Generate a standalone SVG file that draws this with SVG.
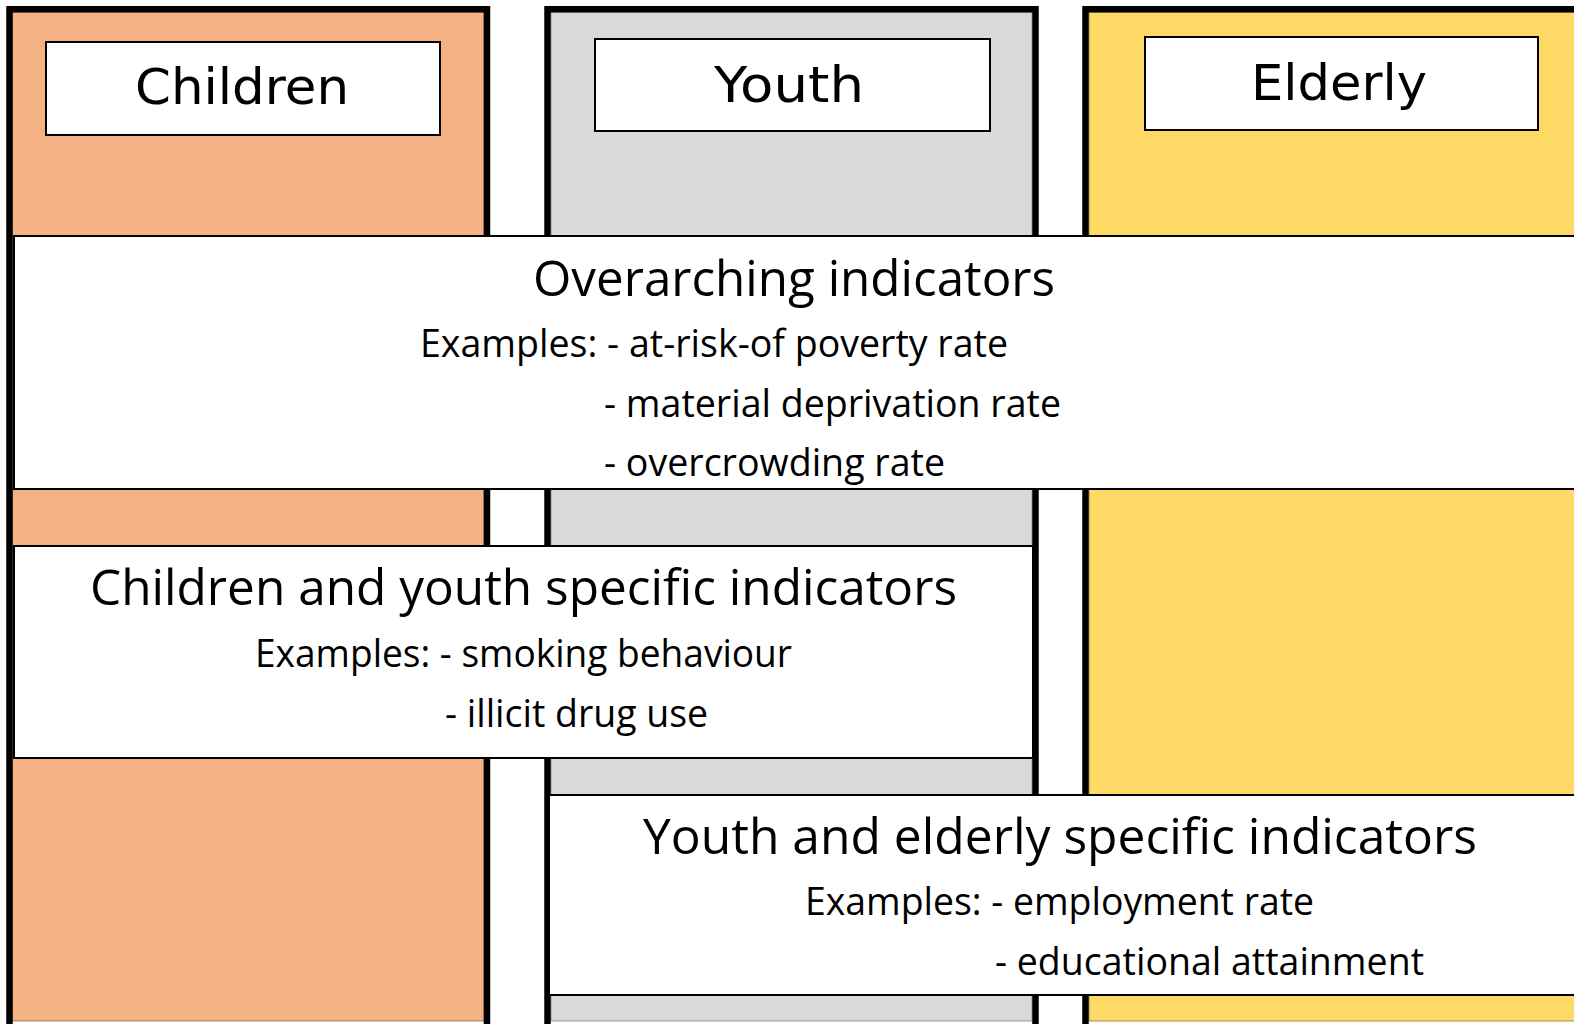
<svg xmlns="http://www.w3.org/2000/svg" width="1574" height="1024" viewBox="0 0 1574 1024">
  <style>
    .colborder { fill: none; stroke: #000; stroke-width: 6.5; }
    .hdr { fill: #fff; stroke: #000; stroke-width: 2; }
    .box { fill: #fff; stroke: #000; stroke-width: 2; }
    .hdrtxt { font-family: "DejaVu Sans", "Liberation Sans", sans-serif; font-size: 49px; fill: #000; text-anchor: middle; }
    .title { font-family: "Open Sans", "Liberation Sans", sans-serif; font-size: 50px; fill: #000; }
    .ex { font-family: "Open Sans", "Liberation Sans", sans-serif; font-size: 38px; fill: #000; }
  </style>
  <rect width="1574" height="1024" fill="#fff"/>

  <g id="col-children">
    <rect x="12" y="12" width="472" height="1009" fill="#F4B183" stroke="#8a6a50" stroke-width="0.8"/>
    <path class="colborder" d="M9.5,1030 V9.2 H487 V1030"/>
    <rect class="hdr" x="46" y="42" width="394" height="93"/>
    <text class="hdrtxt" x="242" y="104" textLength="214" lengthAdjust="spacingAndGlyphs">Children</text>
  </g>

  <g id="col-youth">
    <rect x="551" y="12" width="481" height="1009" fill="#D9D9D9" stroke="#888" stroke-width="0.8"/>
    <path class="colborder" d="M547.5,1030 V9.2 H1035.5 V1030"/>
    <rect class="hdr" x="595" y="39" width="395" height="92"/>
    <text class="hdrtxt" x="789" y="102" textLength="150" lengthAdjust="spacingAndGlyphs">Youth</text>
  </g>

  <g id="col-elderly">
    <rect x="1089" y="12" width="490" height="1009" fill="#FFD966" stroke="#8a7a40" stroke-width="0.8"/>
    <path class="colborder" d="M1085.5,1030 V9.2 H1580"/>
    <rect class="hdr" x="1145" y="37" width="393" height="93"/>
    <text class="hdrtxt" x="1339" y="100" textLength="176" lengthAdjust="spacingAndGlyphs">Elderly</text>
  </g>

  <g id="overarching">
    <rect class="box" x="14" y="236" width="1570" height="253"/>
    <text class="title" x="533" y="296" textLength="522" lengthAdjust="spacingAndGlyphs">Overarching indicators</text>
    <text class="ex" x="420" y="357" textLength="588" lengthAdjust="spacingAndGlyphs">Examples: - at-risk-of poverty rate</text>
    <text class="ex" x="604" y="417" textLength="457" lengthAdjust="spacingAndGlyphs">- material deprivation rate</text>
    <text class="ex" x="604" y="476" textLength="341" lengthAdjust="spacingAndGlyphs">- overcrowding rate</text>
  </g>

  <g id="children-youth">
    <rect class="box" x="14" y="546" width="1019" height="212"/>
    <text class="title" x="90" y="605" textLength="867" lengthAdjust="spacingAndGlyphs">Children and youth specific indicators</text>
    <text class="ex" x="255" y="667" textLength="537" lengthAdjust="spacingAndGlyphs">Examples: - smoking behaviour</text>
    <text class="ex" x="445" y="727" textLength="263" lengthAdjust="spacingAndGlyphs">- illicit drug use</text>
  </g>

  <g id="youth-elderly">
    <rect class="box" x="549" y="795" width="1030" height="200"/>
    <text class="title" x="643" y="854" textLength="834" lengthAdjust="spacingAndGlyphs">Youth and elderly specific indicators</text>
    <text class="ex" x="805" y="915" textLength="509" lengthAdjust="spacingAndGlyphs">Examples: - employment rate</text>
    <text class="ex" x="995" y="975" textLength="429" lengthAdjust="spacingAndGlyphs">- educational attainment</text>
  </g>

  <g id="connectors"></g>
</svg>
